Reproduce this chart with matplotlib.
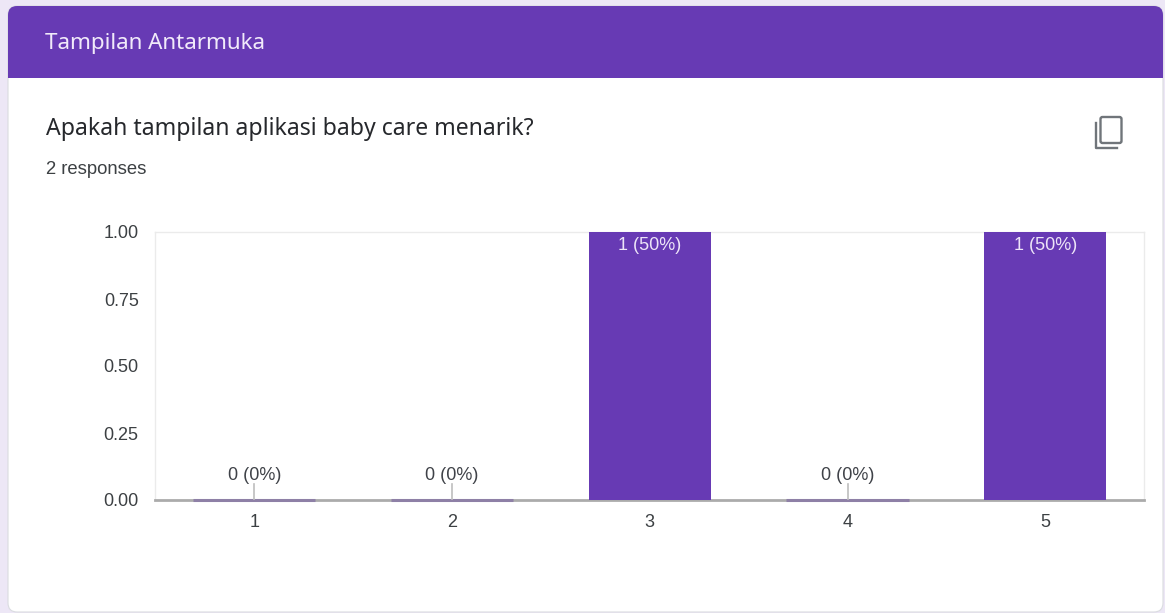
import matplotlib
matplotlib.use("Agg")
import matplotlib.pyplot as plt
from matplotlib.patches import FancyBboxPatch, Rectangle

plt.rcParams["font.family"] = ["Liberation Sans", "DejaVu Sans"]

header = "Tampilan Antarmuka"
question = "Apakah tampilan aplikasi baby care menarik?"
responses = "2 responses"
categories = [1, 2, 3, 4, 5]
counts = [0, 0, 1, 0, 1]
labels = ["0 (0%)", "0 (0%)", "1 (50%)", "0 (0%)", "1 (50%)"]
y_ticks = [0.0, 0.25, 0.5, 0.75, 1.0]

PURPLE = "#673AB4"
W, H = 1165, 613

fig = plt.figure(figsize=(W / 100, H / 100), dpi=100, facecolor="#EDE7F6")

# page overlay in pixel coordinates, y going down
bg = fig.add_axes([0, 0, 1, 1])
bg.set_xlim(0, W)
bg.set_ylim(H, 0)
bg.axis("off")
bg.add_patch(FancyBboxPatch((8, 6), 1155, 606, boxstyle="round,pad=0,rounding_size=9",
                            fc="white", ec="#DADCE0", lw=0.8))
bg.add_patch(FancyBboxPatch((8, 6), 1155, 40, boxstyle="round,pad=0,rounding_size=9",
                            fc=PURPLE, ec="none"))
bg.add_patch(Rectangle((8, 20), 1155, 58, fc=PURPLE, ec="none"))
bg.text(45, 43, header, color="#F1EAFA", fontsize=16.1, family="Noto Sans", va="center")
bg.text(46, 129, question, color="#26282C", fontsize=16.6, family="Noto Sans", va="center")
bg.text(46, 169, responses, color="#3C4043", fontsize=13.3, va="center")

# copy icon
bg.add_patch(FancyBboxPatch((1100.5, 117), 21, 26, boxstyle="round,pad=0,rounding_size=2",
                            fc="none", ec="#70757A", lw=1.7))
bg.plot([1095.5, 1095.5, 1117], [123, 148, 148], color="#70757A", lw=1.7,
        solid_joinstyle="round")

ax = fig.add_axes([155.3 / W, 1 - 500 / H, (1144.3 - 155.3) / W, (500 - 232) / H])
ax.set_xlim(0.5, 5.5)
ax.set_ylim(0, 1)
ax.bar(categories, counts, width=0.617, color=PURPLE, zorder=3)

for x, c, lab in zip(categories, counts, labels):
    if c > 0:
        ax.annotate(lab, (x, c), xytext=(0, -14), textcoords="offset pixels", ha="center",
                    va="center", color="#EDE4F8", fontsize=13)
    else:
        # zero bars show as a thin stub with a leader line up to the label
        ax.plot([x - 0.309, x + 0.309], [0, 0], color="#8E80A6", lw=2.2, zorder=4,
                clip_on=False, solid_capstyle="butt")
        ax.plot([x, x], [0, 0.06], color="#BDBDBD", lw=1.2, zorder=4)
        ax.annotate(lab, (x, 0), xytext=(0, 27), textcoords="offset pixels", ha="center",
                    va="center_baseline", color="#3F4248", fontsize=13)

ax.set_yticks(y_ticks)
ax.set_yticklabels([f"{v:.2f}" for v in y_ticks])
ax.set_xticks(categories)
ax.tick_params(length=0, labelsize=13, labelcolor="#3C4043")
ax.tick_params(axis="y", pad=12)
ax.tick_params(axis="x", pad=10)
for side in ["top", "left", "right"]:
    ax.spines[side].set_color("#EBEBEB")
    ax.spines[side].set_linewidth(1)
ax.spines["bottom"].set_color("#ABABAB")
ax.spines["bottom"].set_linewidth(2)

fig.savefig("out.png", dpi=100)
